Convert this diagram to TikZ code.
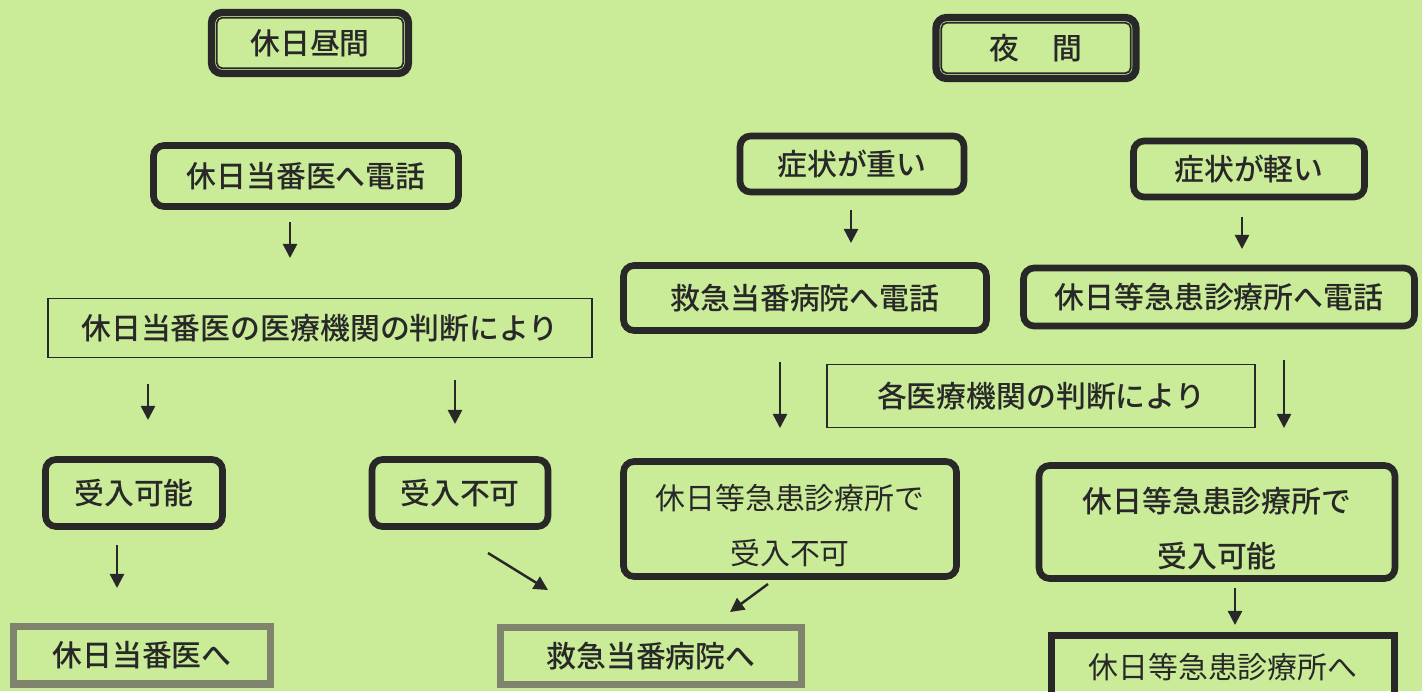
\documentclass[tikz,border=0pt]{standalone}
\usepackage{fontspec}
\setmainfont{Noto Sans CJK JP}[BoldFont={Noto Sans CJK JP Medium}]
\usetikzlibrary{arrows.meta,positioning}
\definecolor{bgreen}{RGB}{202,236,152}
\definecolor{ink}{RGB}{40,40,40}
\definecolor{framegray}{RGB}{128,132,108}

\begin{document}
\begin{tikzpicture}[x=0.02cm,y=-0.02cm,>={Triangle[length=8pt,width=8pt]},
    every node/.style={font=\fontsize{17}{31}\selectfont\bfseries, text=ink, inner sep=0pt},
    heavybox/.style={draw=ink, line width=3.8pt, rounded corners=6pt},
    headbox/.style={heavybox, line width=4.2pt},
    innerline/.style={draw=ink, line width=1pt, rounded corners=3pt},
    thinbox/.style={draw=ink, line width=1.1pt},
    graybox/.style={draw=framegray, line width=4pt},
    plainbox/.style={draw=ink, line width=4pt},
    lightfont/.style={font=\fontsize{17}{31}\selectfont},
    arr/.style={->, draw=ink, line width=1.4pt}]

% background
    \fill[bgreen] (0,0) rectangle (1422,691);
    \useasboundingbox (0,0) rectangle (1422,691);

% holiday daytime
    \node[headbox, minimum width=3.94cm, minimum height=1.22cm] (hiru) at (310,43) {休日昼間};
    \draw[innerline] ([shift={(9,9)}]hiru.north west) rectangle ([shift={(-9,-9)}]hiru.south east);

    \node[heavybox, minimum width=6.1cm, minimum height=1.22cm] (tel1) at (306,176) {休日当番医へ電話};
    \node[thinbox, minimum width=10.9cm, minimum height=1.18cm] (judge1) at (320,328) {休日当番医の医療機関の判断により};
    \node[heavybox, minimum width=3.54cm, minimum height=1.34cm] (ok1) at (134,493) {受入可能};
    \node[heavybox, minimum width=3.52cm, minimum height=1.34cm] (ng1) at (460,493) {受入不可};
    \node[graybox, minimum width=5.16cm, minimum height=1.16cm] (doc) at (142,655) {休日当番医へ};
    \node[graybox, minimum width=6.02cm, minimum height=1.14cm] (hosp) at (651,656) {救急当番病院へ};

% night
    \node[headbox, minimum width=4.0cm, minimum height=1.22cm] (yoru) at (1036,48) {夜\hspace{1.1em}間};
    \draw[innerline] ([shift={(9,9)}]yoru.north west) rectangle ([shift={(-9,-9)}]yoru.south east);

    \node[heavybox, minimum width=4.48cm, minimum height=1.12cm] (heavy) at (852,164) {症状が重い};
    \node[heavybox, minimum width=4.62cm, minimum height=1.12cm] (light) at (1249,169) {症状が軽い};
    \node[heavybox, minimum width=7.26cm, minimum height=1.3cm] (tel2) at (805,298) {救急当番病院へ電話};
    \node[heavybox, minimum width=7.82cm, minimum height=1.16cm] (tel3) at (1219,297) {休日等急患診療所へ電話};
    \node[thinbox, minimum width=8.56cm, minimum height=1.26cm] (judge2) at (1041,396) {各医療機関の判断により};
    \node[heavybox, lightfont, align=center, minimum width=6.66cm, minimum height=2.3cm] (ng2) at (790,519) {\rule{0pt}{22pt}休日等急患診療所で\\受入不可};
    \node[heavybox, align=center, minimum width=7.12cm, minimum height=2.26cm] (ok2) at (1217,522) {\rule{0pt}{22pt}休日等急患診療所で\\受入可能};
    \node[plainbox, lightfont, minimum width=6.86cm, minimum height=1.26cm] (clinic) at (1223,667) {休日等急患診療所へ};

% arrow ends
    \coordinate (a1) at (290,222);  \coordinate (b1) at (290,258);
    \coordinate (a2) at (851,210);  \coordinate (b2) at (851,243);
    \coordinate (a3) at (1242,217); \coordinate (b3) at (1242,249);
    \coordinate (a4) at (148,384);  \coordinate (b4) at (148,420);
    \coordinate (a5) at (455,380);  \coordinate (b5) at (455,424);
    \coordinate (a6) at (780,362);  \coordinate (b6) at (780,428);
    \coordinate (a7) at (1284,360); \coordinate (b7) at (1284,428);
    \coordinate (a8) at (117,545);  \coordinate (b8) at (117,588);
    \coordinate (a9) at (488,553);  \coordinate (b9) at (548,590);
    \coordinate (a10) at (768,584); \coordinate (b10) at (730,612);
    \coordinate (a11) at (1235,588); \coordinate (b11) at (1235,625);

    \foreach \n in {1,...,11}{
      \draw[arr] (a\n) -- (b\n);
    }

\end{tikzpicture}
\end{document}
